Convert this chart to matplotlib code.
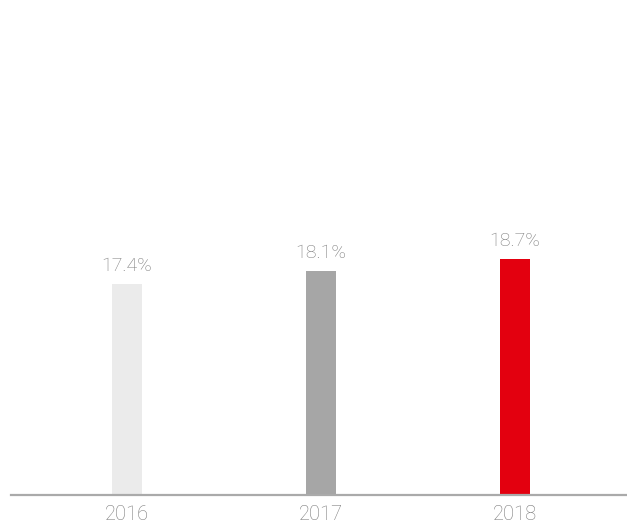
import numpy as np
import matplotlib.pyplot as plt

years = ['2016', '2017', '2018']
values = [17.4, 18.1, 18.7]
colors = ['#ebebeb', '#a6a6a6', '#e3000f']

plt.rcParams['font.family'] = ['Roboto', 'DejaVu Sans']

fig = plt.figure(figsize=(6.27, 5.26), dpi=100)
ax = fig.add_axes([11 / 627, 31 / 526, 616 / 627, 495 / 526])

x = np.arange(len(years))
ax.bar(x, values, width=0.155, color=colors)

for xi, v in zip(x, values):
    ax.text(xi, v + 0.45, f'{v}%', ha='center', va='bottom',
            fontsize=14, color='#7a7a7a', fontweight='light')

ax.set_xlim(-0.598, 2.577)
ax.set_ylim(6.4, 32.2)
ax.set_xticks(x)
ax.set_xticklabels(years, fontsize=14.5, color='#7a7a7a', fontweight='light')
ax.tick_params(axis='x', length=0, pad=7)
ax.set_yticks([])
for s in ['top', 'right', 'left']:
    ax.spines[s].set_visible(False)
ax.spines['bottom'].set_color('#aaaaaa')
ax.spines['bottom'].set_linewidth(1.6)

fig.savefig('out.png', dpi=100)
